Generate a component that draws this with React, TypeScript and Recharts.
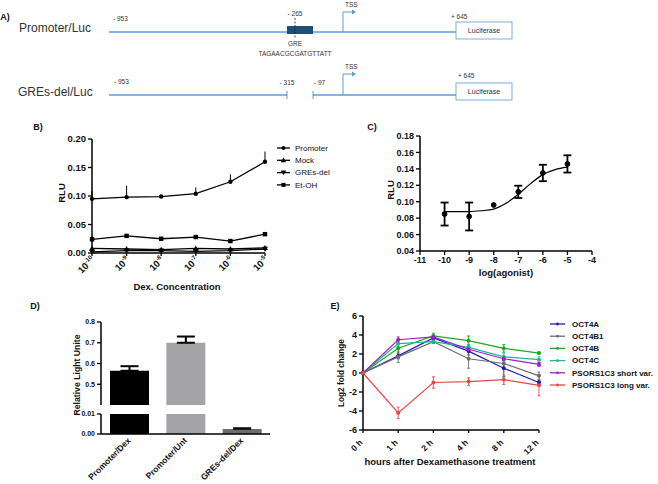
import React from "react";
import { ComposedChart, BarChart, Line, Bar, XAxis, YAxis, ErrorBar, Cell } from "recharts";

const FONT = "'Liberation Sans', Arial, Helvetica, sans-serif";
const NARROW = "'Liberation Sans Narrow', 'Liberation Sans', Arial, sans-serif";

// ---- B) luciferase vs dexamethasone concentration
const bExponents = ["-10", "-9", "-8", "-7", "-6", "-5"];
const bPromoter = [0.095, 0.098, 0.099, 0.104, 0.125, 0.16];
const bPromoterErr = [0.014, 0.02, 0.0, 0.011, 0.013, 0.018];
const bMock = [0.008, 0.007, 0.006, 0.008, 0.007, 0.009];
const bGresDel = [0.002, 0.004, 0.004, 0.003, 0.004, 0.007];
const bEtOH = [0.024, 0.03, 0.025, 0.028, 0.021, 0.033];
const bEtOHErr = [0.005, 0.002, 0.002, 0.002, 0.002, 0.004];
const bYTicks = [0, 0.05, 0.1, 0.15, 0.2];

// ---- C) dose-response fit
const cLogAgonist = [-10, -9, -8, -7, -6, -5];
const cMean = [0.085, 0.082, 0.096, 0.112, 0.135, 0.146];
const cSem = [0.014, 0.017, 0.0, 0.0075, 0.01, 0.0105];
const cFitX = [-10, -9.5, -9, -8.5, -8, -7.5, -7, -6.5, -6, -5.5, -5];
const cFitY = [0.088, 0.088, 0.088, 0.089, 0.091, 0.098, 0.109, 0.122, 0.133, 0.139, 0.142];
const cXTicks = [-11, -10, -9, -8, -7, -6, -5, -4];
const cYTicks = [0.04, 0.06, 0.08, 0.1, 0.12, 0.14, 0.16, 0.18];

// ---- D) broken-axis bars
const dGroups = ["Promoter/Dex", "Promoter/Unt", "GREs-del/Dex"];
const dValues = [0.565, 0.7, 0.0025];
const dErr = [0.022, 0.03, 0.0005];
const dColors = ["#000000", "#a4a4a7", "#6c6c6c"];
const dUpperTicks = [0.4, 0.5, 0.6, 0.7, 0.8];
const dLowerTicks = [0, 0.01];

// ---- E) time course
const eTimes = ["0 h", "1 h", "2 h", "4 h", "8 h", "12 h"];
const eOct4a = [0, 1.8, 3.7, 2.3, 0.5, -1.0];
const eOct4aSem = [0, 0.3, 0.2, 0.4, 0.9, 0.2];
const eOct4b1 = [0, 1.7, 3.3, 1.5, 1.0, -0.3];
const eOct4b1Sem = [0, 0.6, 0.2, 1.0, 0.5, 0.4];
const eOct4b = [0, 2.6, 3.9, 3.4, 2.6, 2.1];
const eOct4bSem = [0, 0.8, 0.3, 0.5, 0.4, 0.1];
const eOct4c = [0, 3.1, 3.3, 2.7, 1.7, 1.4];
const eOct4cSem = [0, 0.3, 0.2, 0.3, 0.4, 0.3];
const eShort = [0, 3.5, 3.8, 2.5, 1.5, 0.9];
const eShortSem = [0, 0.3, 0.2, 0.2, 0.2, 0.2];
const eLong = [0, -4.2, -1.0, -0.9, -0.7, -1.3];
const eLongSem = [0, 0.6, 0.6, 0.4, 0.5, 1.1];
const eYTicks = [-6, -4, -2, 0, 2, 4, 6];

const bSeries = [
  { key: "promoter", name: "Promoter", shape: "circle", values: bPromoter, err: bPromoterErr },
  { key: "mock", name: "Mock", shape: "tri", values: bMock, err: null },
  { key: "gresdel", name: "GREs-del", shape: "itri", values: bGresDel, err: null },
  { key: "etoh", name: "Et-OH", shape: "square", values: bEtOH, err: bEtOHErr },
];

const eSeries = [
  { key: "oct4a", name: "OCT4A", color: "#1e1eb4", values: eOct4a, sem: eOct4aSem },
  { key: "oct4b1", name: "OCT4B1", color: "#6e6e6e", values: eOct4b1, sem: eOct4b1Sem },
  { key: "oct4b", name: "OCT4B", color: "#22a622", values: eOct4b, sem: eOct4bSem },
  { key: "oct4c", name: "OCT4C", color: "#22b88c", values: eOct4c, sem: eOct4cSem },
  { key: "short", name: "PSORS1C3 short var.", color: "#9a22cc", values: eShort, sem: eShortSem },
  { key: "long", name: "PSORS1C3 long var.", color: "#e84848", values: eLong, sem: eLongSem },
];

const bData = bExponents.map((e, i) => {
  const row: any = { conc: e };
  bSeries.forEach((s) => {
    row[s.key] = s.values[i];
    if (s.err) row[s.key + "Err"] = [0, s.err[i]];
  });
  return row;
});
const cPoints = cLogAgonist.map((x, i) => ({ x, y: cMean[i], sem: cSem[i] }));
const cFit = cFitX.map((x, i) => ({ x, y: cFitY[i] }));
const dData = dGroups.map((g, i) => ({ g, v: dValues[i], err: [0, dErr[i]] }));
const eData = eTimes.map((t, i) => {
  const row: any = { t };
  eSeries.forEach((s) => {
    row[s.key] = s.values[i];
    row[s.key + "Err"] = s.sem[i];
  });
  return row;
});

function Marker({ shape, cx, cy, size = 4.4, fill = "#000" }: any) {
  const h = size / 2;
  if (shape === "square") return <rect x={cx - h} y={cy - h} width={size} height={size} fill={fill} />;
  if (shape === "tri")
    return <polygon points={`${cx},${cy - h - 0.7} ${cx + h + 0.7},${cy + h} ${cx - h - 0.7},${cy + h}`} fill={fill} />;
  if (shape === "itri")
    return <polygon points={`${cx},${cy + h + 0.7} ${cx + h + 0.7},${cy - h} ${cx - h - 0.7},${cy - h}`} fill={fill} />;
  return <circle cx={cx} cy={cy} r={h} fill={fill} />;
}

function PowTick({ x, y, payload }: any) {
  return (
    <g transform={`translate(${x + 1},${y}) rotate(-45)`}>
      <text x={0} y={0} dy="0.35em" textAnchor="end" fontSize={9.5} fontWeight="bold" fill="#111">
        10<tspan fontSize={6} dy={-4}>{payload.value}</tspan>
      </text>
    </g>
  );
}

function RotTick({ x, y, payload, fs = 8.5, ox = 0, oy = 0 }: any) {
  return (
    <g transform={`translate(${x + ox},${y + oy}) rotate(-45)`}>
      <text x={0} y={0} dy="0.35em" textAnchor="end" fontSize={fs} fontWeight="bold" fill="#111">
        {payload.value}
      </text>
    </g>
  );
}

function Title({ text, x, y, size, rotate = 0, weight = "bold", family = FONT }: any) {
  return (
    <div
      style={{
        position: "absolute",
        left: x,
        top: y,
        transform: `translate(-50%, -50%) rotate(${rotate}deg)`,
        fontSize: size,
        fontWeight: weight,
        fontFamily: family,
        whiteSpace: "nowrap",
        color: "#111",
        lineHeight: 1,
      }}
    >
      {text}
    </div>
  );
}

const axisLine = { stroke: "#000", strokeWidth: 1.5 };
const tickLine = { stroke: "#000", strokeWidth: 1.3 };

function PanelA() {
  const blue = "#5b9bd5";
  const small = { fontSize: 6.5, fill: "#333", fontFamily: NARROW } as any;
  return (
    <svg width={658} height={110} style={{ position: "absolute", left: 0, top: 0 }}>
      <text x={19} y={32} fontSize={12} fill="#333" fontFamily={NARROW}>Promoter/Luc</text>
      <line x1={109} x2={456} y1={32} y2={32} stroke={blue} strokeWidth={1.5} />
      <rect x={287} y={26} width={26} height={8} fill="#1f4e79" />
      <line x1={295} x2={295} y1={18} y2={38} stroke="#222" strokeWidth={0.8} strokeDasharray="2 1.5" />
      <text x={295} y={16} textAnchor="middle" {...small}>- 265</text>
      <text x={113} y={21} {...small}>- 953</text>
      <text x={451} y={19} {...small}>+ 645</text>
      <path d="M343 32 V12 H352" fill="none" stroke={blue} strokeWidth={1} />
      <polygon points="352,9.5 356,12 352,14.5" fill={blue} />
      <text x={345} y={7} {...small}>TSS</text>
      <rect x={456} y={22} width={56} height={17} fill="#fff" stroke={blue} strokeWidth={0.8} />
      <text x={484} y={33} textAnchor="middle" {...small} fontSize={7}>Luciferase</text>
      <text x={295} y={46} textAnchor="middle" {...small}>GRE</text>
      <text x={295} y={56} textAnchor="middle" {...small}>TAGAACGCGATGTTATT</text>

      <text x={18} y={96} fontSize={12} fill="#333" fontFamily={NARROW}>GREs-del/Luc</text>
      <line x1={109} x2={287} y1={95} y2={95} stroke={blue} strokeWidth={1.5} />
      <line x1={287} x2={287} y1={91} y2={99} stroke={blue} strokeWidth={1} />
      <line x1={313} x2={456} y1={95} y2={95} stroke={blue} strokeWidth={1.5} />
      <line x1={313} x2={313} y1={91} y2={99} stroke={blue} strokeWidth={1} />
      <text x={114} y={84} {...small}>- 953</text>
      <text x={287} y={85} textAnchor="middle" {...small}>- 315</text>
      <text x={314} y={85} {...small}>- 97</text>
      <path d="M343 95 V74 H352" fill="none" stroke={blue} strokeWidth={1} />
      <polygon points="352,71.5 356,74 352,76.5" fill={blue} />
      <text x={345} y={69} {...small}>TSS</text>
      <text x={458} y={78} {...small}>+ 645</text>
      <rect x={456} y={83} width={56} height={17} fill="#fff" stroke={blue} strokeWidth={0.8} />
      <text x={484} y={94} textAnchor="middle" {...small} fontSize={7}>Luciferase</text>
    </svg>
  );
}

export default function App() {
  return (
    <div
      style={{
        position: "absolute",
        left: 0,
        top: 0,
        width: 658,
        height: 484,
        overflow: "hidden",
        background: "#fff",
        fontFamily: FONT,
      }}
    >
      <PanelA />
      <Title text="A)" x={5} y={17} size={9} />
      <Title text="B)" x={38} y={127} size={9} />
      <Title text="C)" x={372} y={127} size={9} />
      <Title text="D)" x={35} y={306} size={9} />
      <Title text="E)" x={335} y={306} size={9} />

      {/* B */}
      <div style={{ position: "absolute", left: 0, top: 130 }}>
        <ComposedChart width={340} height={180} data={bData} margin={{ top: 9, right: 75, bottom: 0, left: 0 }}>
          <XAxis dataKey="conc" height={57} interval={0} tick={<PowTick />} tickSize={3} axisLine={axisLine} tickLine={tickLine} />
          <YAxis
            width={92}
            domain={[0, 0.2]}
            ticks={bYTicks}
            tickFormatter={(v: number) => v.toFixed(2)}
            tick={{ fontSize: 9.5, fontWeight: "bold", fill: "#111" }}
            tickSize={4}
            axisLine={axisLine}
            tickLine={tickLine}
          />
          {bSeries.map((s) => (
            <Line
              key={s.key}
              dataKey={s.key}
              stroke="#000"
              strokeWidth={1.3}
              isAnimationActive={false}
              dot={(p: any) => <Marker key={`${s.key}-${p.index}`} shape={s.shape} cx={p.cx} cy={p.cy} />}
            >
              {s.err && <ErrorBar dataKey={s.key + "Err"} width={0} stroke="#000" strokeWidth={1} direction="y" />}
            </Line>
          ))}
        </ComposedChart>
      </div>
      <svg width={60} height={56} style={{ position: "absolute", left: 276, top: 140 }}>
        {bSeries.map((s, i) => {
          const y = 8 + i * 12.3;
          return (
            <g key={s.key}>
              <line x1={1} x2={14} y1={y} y2={y} stroke="#000" strokeWidth={1.3} />
              <Marker shape={s.shape} cx={7.5} cy={y} size={4} />
              <text x={19} y={y} dy="0.35em" fontSize={8} fill="#111">{s.name}</text>
            </g>
          );
        })}
      </svg>
      <Title text="RLU" x={62} y={193} size={9.5} rotate={-90} />
      <Title text="Dex. Concentration" x={177} y={287} size={9.5} />

      {/* C */}
      <div style={{ position: "absolute", left: 330, top: 126 }}>
        <ComposedChart width={270} height={165} margin={{ top: 10, right: 8, bottom: 0, left: 0 }}>
          <XAxis
            type="number"
            dataKey="x"
            domain={[-11, -4]}
            ticks={cXTicks}
            height={40}
            tick={{ fontSize: 9, fontWeight: "bold", fill: "#111" }}
            tickSize={4}
            axisLine={axisLine}
            tickLine={tickLine}
          />
          <YAxis
            type="number"
            width={90}
            domain={[0.04, 0.18]}
            ticks={cYTicks}
            tickFormatter={(v: number) => v.toFixed(2)}
            tick={{ fontSize: 9, fontWeight: "bold", fill: "#111" }}
            tickSize={4}
            axisLine={axisLine}
            tickLine={tickLine}
          />
          <Line data={cFit} dataKey="y" type="monotone" dot={false} stroke="#000" strokeWidth={1.2} isAnimationActive={false} />
          <Line
            data={cPoints}
            dataKey="y"
            stroke="none"
            dot={{ r: 2.4, fill: "#000", stroke: "#000" }}
            isAnimationActive={false}
          >
            <ErrorBar dataKey="sem" width={4} stroke="#000" strokeWidth={1.8} direction="y" />
          </Line>
        </ComposedChart>
      </div>
      <Title text="RLU" x={391} y={190} size={9.5} rotate={-90} />
      <Title text="log(agonist)" x={506} y={273} size={9.5} />

      {/* D upper segment */}
      <div style={{ position: "absolute", left: 0, top: 310 }}>
        <BarChart width={290} height={95} data={dData} margin={{ top: 12, right: 20, bottom: 0, left: 0 }}>
          <XAxis dataKey="g" hide />
          <YAxis
            width={101}
            domain={[0.4, 0.8]}
            ticks={dUpperTicks}
            allowDataOverflow
            tickFormatter={(v: number) => v.toFixed(1)}
            tick={{ fontSize: 7, fontWeight: "bold", fill: "#111" }}
            tickSize={4}
            axisLine={axisLine}
            tickLine={tickLine}
          />
          <Bar dataKey="v" barSize={39} isAnimationActive={false}>
            {dData.map((d, i) => (
              <Cell key={d.g} fill={dColors[i]} />
            ))}
            <ErrorBar dataKey="err" width={9} stroke="#000" strokeWidth={2} direction="y" />
          </Bar>
        </BarChart>
      </div>
      {/* D lower segment */}
      <div style={{ position: "absolute", left: 0, top: 405 }}>
        <BarChart width={290} height={79} data={dData} margin={{ top: 9, right: 20, bottom: 0, left: 0 }}>
          <XAxis dataKey="g" height={50} interval={0} tick={<RotTick fs={8.5} ox={0} oy={1} />} tickSize={0} tickMargin={4} axisLine={axisLine} tickLine={false} />
          <YAxis
            width={101}
            domain={[0, 0.01]}
            ticks={dLowerTicks}
            allowDataOverflow
            tickFormatter={(v: number) => v.toFixed(2)}
            tick={{ fontSize: 7, fontWeight: "bold", fill: "#111" }}
            tickSize={4}
            axisLine={axisLine}
            tickLine={tickLine}
          />
          <Bar dataKey="v" barSize={39} isAnimationActive={false}>
            {dData.map((d, i) => (
              <Cell key={d.g} fill={dColors[i]} />
            ))}
            <ErrorBar dataKey="err" width={9} stroke="#000" strokeWidth={1.5} direction="y" />
          </Bar>
        </BarChart>
      </div>
      <Title text="Relative Light Unite" x={77} y={375} size={8.7} rotate={-90} />

      {/* E */}
      <div style={{ position: "absolute", left: 300, top: 306 }}>
        <ComposedChart width={250} height={160} data={eData} margin={{ top: 10, right: 11, bottom: 0, left: 0 }}>
          <XAxis dataKey="t" height={36} interval={0} tick={<RotTick fs={8.5} ox={-2} oy={6} />} tickSize={3} axisLine={axisLine} tickLine={tickLine} />
          <YAxis
            width={63}
            domain={[-6, 6]}
            ticks={eYTicks}
            tick={{ fontSize: 9, fontWeight: "bold", fill: "#111" }}
            tickSize={4}
            axisLine={axisLine}
            tickLine={tickLine}
          />
          {eSeries.map((s) => (
            <Line
              key={s.key}
              dataKey={s.key}
              stroke={s.color}
              strokeWidth={1.2}
              dot={{ r: 1.4, fill: s.color, stroke: s.color }}
              isAnimationActive={false}
            >
              <ErrorBar dataKey={s.key + "Err"} width={1.5} stroke={s.color} strokeWidth={0.9} direction="y" />
            </Line>
          ))}
        </ComposedChart>
      </div>
      <svg width={108} height={80} style={{ position: "absolute", left: 549, top: 316 }}>
        {eSeries.map((s, i) => {
          const y = 8 + i * 12.2;
          return (
            <g key={s.key}>
              <line x1={1} x2={16} y1={y} y2={y} stroke={s.color} strokeWidth={1.3} />
              <circle cx={8.5} cy={y} r={1.4} fill={s.color} />
              <text x={23} y={y} dy="0.35em" fontSize={8} fontWeight="bold" fill="#111">{s.name}</text>
            </g>
          );
        })}
      </svg>
      <Title text="Log2 fold change" x={342} y={373} size={8.2} rotate={-90} />
      <Title text="hours after Dexamethasone treatment" x={450} y={462} size={9.5} />
    </div>
  );
}
